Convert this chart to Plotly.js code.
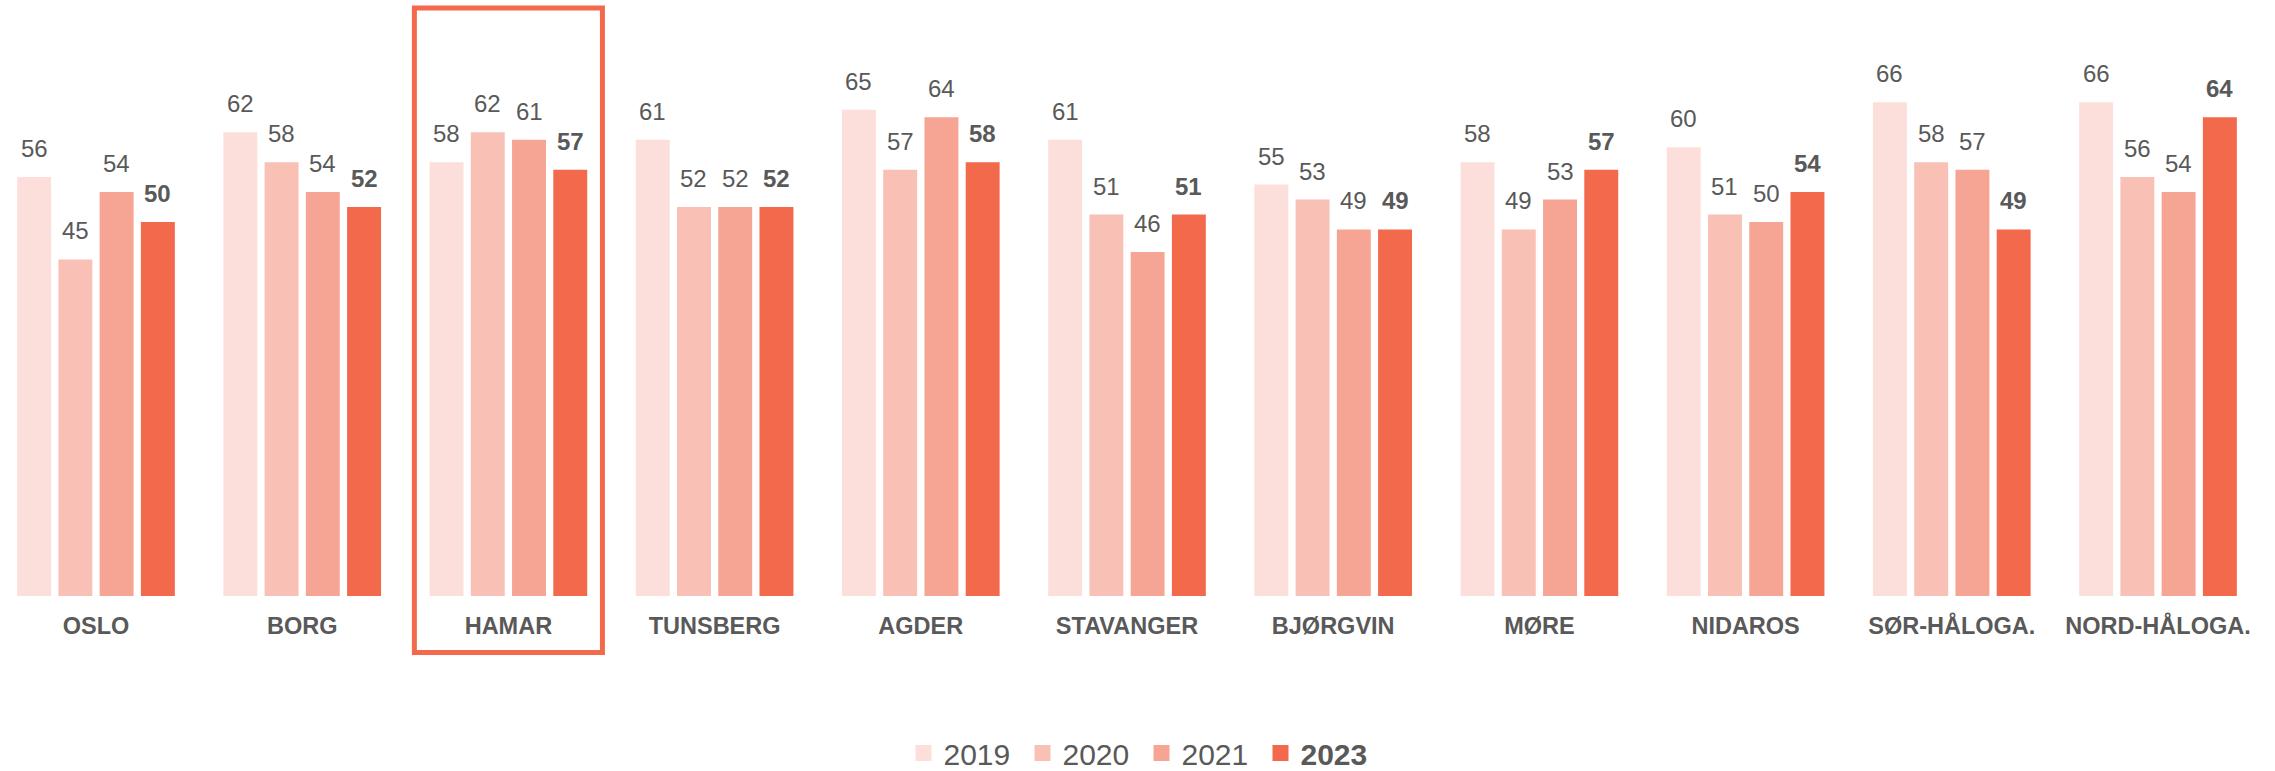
<!DOCTYPE html>
<html>
<head>
<meta charset="utf-8">
<script src="https://cdn.plot.ly/plotly-3.0.1.min.js"></script>
<style>
  html, body { margin: 0; padding: 0; background: #ffffff; }
  #chart { width: 2275px; height: 771px; }
</style>
</head>
<body>
<div id="chart"></div>
<script>
const categories = ['OSLO', 'BORG', 'HAMAR', 'TUNSBERG', 'AGDER', 'STAVANGER', 'BJØRGVIN', 'MØRE', 'NIDAROS', 'SØR-HÅLOGA.', 'NORD-HÅLOGA.'];
const years = ['2019', '2020', '2021', '2023'];
const values2019 = [56, 62, 58, 61, 65, 61, 55, 58, 60, 66, 66];
const values2020 = [45, 58, 62, 52, 57, 51, 53, 49, 51, 58, 56];
const values2021 = [54, 54, 61, 52, 64, 46, 49, 53, 50, 57, 54];
const values2023 = [50, 52, 57, 52, 58, 51, 49, 57, 54, 49, 64];
const highlighted = 'HAMAR';

const series = [values2019, values2020, values2021, values2023];
const colors = ['#FCDFDA', '#F9C0B5', '#F6A594', '#F2694B'];
const textColor = '#595959';
const font = '"Liberation Sans", Arial, sans-serif';

const bargap = 0.2;
const traces = [];
series.forEach((vals, i) => {
  traces.push({
    type: 'bar',
    name: years[i],
    x: categories,
    y: vals,
    marker: { color: colors[i], line: { width: 0 } },
    showlegend: false,
    hoverinfo: 'x+y+name'
  });
});
// legend entries (square swatches)
series.forEach((vals, i) => {
  traces.push({
    type: 'scatter',
    mode: 'markers',
    name: i === 3 ? '<b>' + years[i] + '</b>' : years[i],
    x: [null], y: [null],
    marker: { symbol: 'square', size: 16, color: colors[i] },
    showlegend: true,
    hoverinfo: 'skip'
  });
});

// value labels via annotations placed at each bar's data position
const plotWidth = 2275;
const pxPerCat = 206.2;
const slot = pxPerCat * (1 - bargap) / series.length;
const annotations = [];
series.forEach((vals, i) => {
  vals.forEach((v, j) => {
    annotations.push({
      x: categories[j], y: v, xref: 'x', yref: 'y',
      text: i === 3 ? '<b>' + v + '</b>' : String(v),
      showarrow: false,
      xanchor: 'center', yanchor: 'bottom',
      xshift: (i - (series.length - 1) / 2) * slot,
      yshift: 13,
      font: { family: font, size: 24, color: textColor }
    });
  });
});

const hIdx = categories.indexOf(highlighted);
const layout = {
  width: 2275, height: 771,
  margin: { l: 0, r: 0, t: 0, b: 175, pad: 0, autoexpand: false },
  paper_bgcolor: '#ffffff',
  plot_bgcolor: '#ffffff',
  barmode: 'group',
  bargap: bargap,
  bargroupgap: 0.177,
  font: { family: font, color: textColor },
  xaxis: {
    type: 'category',
    range: [-96 / pxPerCat, (plotWidth - 96) / pxPerCat],
    showgrid: false, zeroline: false, showline: false,
    ticks: '',
    ticklabelstandoff: 13,
    tickfont: { family: font, size: 23.5, color: textColor, weight: 'bold' },
    fixedrange: true
  },
  yaxis: {
    range: [0, 596 / 7.48],
    visible: false,
    showgrid: false, zeroline: false,
    fixedrange: true
  },
  legend: {
    orientation: 'h',
    x: 0.5 + 4 / 2275, xanchor: 'center',
    yref: 'container',
    y: 1 - 753 / 771, yanchor: 'middle',
    font: { family: font, size: 30, color: textColor },
    itemsizing: 'trace',
    entrywidth: 74,
    traceorder: 'normal',
    bgcolor: 'rgba(0,0,0,0)'
  },
  shapes: [{
    type: 'rect',
    xref: 'x', yref: 'paper',
    x0: hIdx - 0.456, x1: hIdx + 0.456,
    y0: 1 - 652.5 / 596, y1: 1 - 8 / 596,
    line: { color: '#F2694B', width: 5 },
    fillcolor: 'rgba(0,0,0,0)',
    layer: 'above'
  }],
  annotations: annotations
};

Plotly.newPlot('chart', traces, layout, { displayModeBar: false, staticPlot: true });
</script>
</body>
</html>
